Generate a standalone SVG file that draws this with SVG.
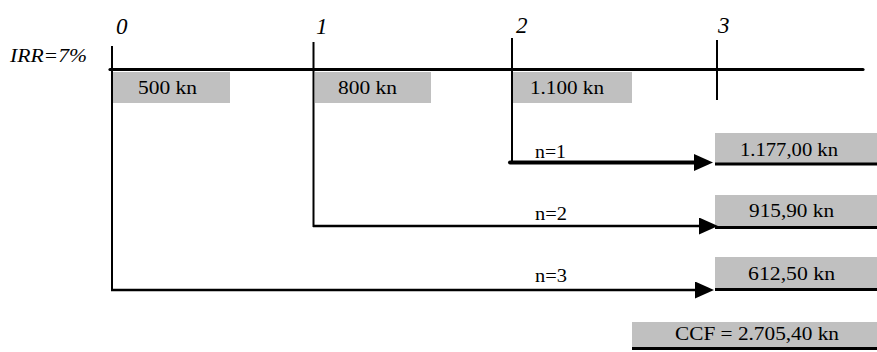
<svg xmlns="http://www.w3.org/2000/svg" width="877" height="352" viewBox="0 0 877 352">
  <style>
    text { font-family: 'Liberation Serif', 'Times New Roman', serif; font-size: 18px; fill: #000; }
    .i { font-style: italic; font-size: 19px; }
    .d { font-style: italic; font-size: 23px; }
    .box { fill: #c0c0c0; stroke: none; }
    .ln { stroke: #000; fill: none; }
  </style>
  <defs>
    <marker id="ah" markerUnits="userSpaceOnUse" markerWidth="20" markerHeight="18" refX="0" refY="8.5" orient="auto">
      <path d="M0,0 L19,8.5 L0,17 Z" fill="#000"/>
    </marker>
  </defs>
  <rect width="877" height="352" fill="#fff"/>

  <g id="timeline">
    <line class="ln" x1="110" y1="69.5" x2="863" y2="69.5" stroke-width="3.2" stroke-linecap="round"/>
    <text class="i" x="10" y="62" textLength="77" lengthAdjust="spacingAndGlyphs">IRR=7%</text>
  </g>

  <g id="period-0">
    <line class="ln" x1="112" y1="46" x2="112" y2="291" stroke-width="2"/>
    <text class="d" x="116" y="33.5">0</text>
    <rect class="box" x="113" y="72" width="117" height="31"/>
    <text x="138" y="94" textLength="59" lengthAdjust="spacingAndGlyphs">500 kn</text>
  </g>

  <g id="period-1">
    <line class="ln" x1="313.5" y1="42" x2="313.5" y2="227" stroke-width="2"/>
    <text class="d" x="316" y="33.5">1</text>
    <rect class="box" x="315" y="72" width="116" height="31"/>
    <text x="338" y="94" textLength="59" lengthAdjust="spacingAndGlyphs">800 kn</text>
  </g>

  <g id="period-2">
    <line class="ln" x1="512" y1="38" x2="512" y2="163" stroke-width="2"/>
    <text class="d" x="516" y="33">2</text>
    <rect class="box" x="513" y="72" width="119" height="31"/>
    <text x="530" y="94" textLength="74" lengthAdjust="spacingAndGlyphs">1.100 kn</text>
  </g>

  <g id="period-3">
    <line class="ln" x1="717" y1="40" x2="717" y2="100" stroke-width="2"/>
    <text class="d" x="718" y="33">3</text>
  </g>

  <g id="fv-1">
    <rect class="box" x="715" y="133" width="162" height="30"/>
    <line class="ln" x1="715" y1="164" x2="877" y2="164" stroke-width="3"/>
    <text x="740" y="156" textLength="98" lengthAdjust="spacingAndGlyphs">1.177,00 kn</text>
  </g>

  <g id="fv-2">
    <rect class="box" x="715" y="195" width="162" height="31"/>
    <line class="ln" x1="715" y1="227.5" x2="877" y2="227.5" stroke-width="3"/>
    <text x="749" y="217" textLength="85" lengthAdjust="spacingAndGlyphs">915,90 kn</text>
  </g>

  <g id="fv-3">
    <rect class="box" x="715" y="257" width="162" height="31"/>
    <line class="ln" x1="715" y1="289.5" x2="877" y2="289.5" stroke-width="3"/>
    <text x="748" y="280" textLength="87" lengthAdjust="spacingAndGlyphs">612,50 kn</text>
  </g>

  <g id="ccf">
    <rect class="box" x="632" y="322" width="245" height="25"/>
    <line class="ln" x1="632" y1="348.5" x2="877" y2="348.5" stroke-width="3"/>
    <text x="675" y="340" textLength="164" lengthAdjust="spacingAndGlyphs">CCF = 2.705,40 kn</text>
  </g>

  <g id="connectors">
    <line class="ln" x1="510" y1="162.5" x2="694" y2="162.5" stroke-width="4" stroke-linecap="round" marker-end="url(#ah)"/>
    <text x="535" y="157.5" textLength="31" lengthAdjust="spacingAndGlyphs">n=1</text>
    <line class="ln" x1="313" y1="226" x2="699" y2="226" stroke-width="2.5" marker-end="url(#ah)"/>
    <text x="535" y="220" textLength="32" lengthAdjust="spacingAndGlyphs">n=2</text>
    <line class="ln" x1="111" y1="290" x2="695" y2="290" stroke-width="2.5" marker-end="url(#ah)"/>
    <text x="535" y="281.5" textLength="32" lengthAdjust="spacingAndGlyphs">n=3</text>
  </g>
</svg>
